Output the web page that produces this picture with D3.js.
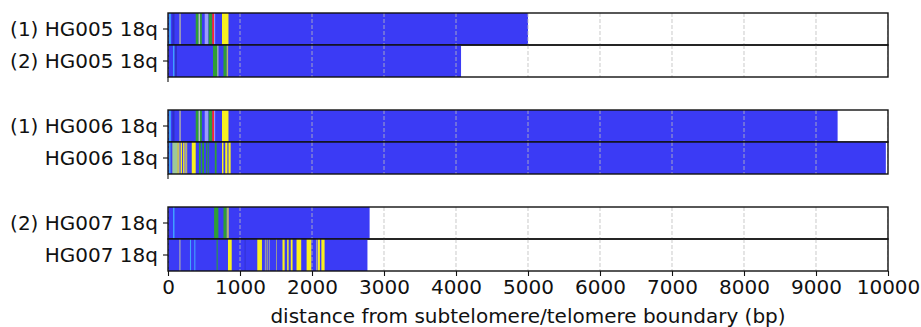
<!DOCTYPE html>
<html>
<head>
<meta charset="utf-8">
<script src="https://cdn.jsdelivr.net/npm/d3@7/dist/d3.min.js"></script>
<style>
  html, body { margin: 0; padding: 0; background: #fff; }
  svg { display: block; }
  text { font-family: "DejaVu Sans", sans-serif; fill: #111; }
</style>
</head>
<body>
<svg id="chart" width="921" height="327"></svg>
<script>
// Read labels, grouped in pairs (one panel per pair)
const rowLabels = [
  "(1) HG005 18q", "(2) HG005 18q",
  "(1) HG006 18q", "HG006 18q",
  "(2) HG007 18q", "HG007 18q"
];
// Read length in bp
const rowLengths = [5000, 4070, 9300, 9970, 2800, 2770];

// Tick values on the distance axis
const xTicks = [0, 1000, 2000, 3000, 4000, 5000, 6000, 7000, 8000, 9000, 10000];
const xLabel = "distance from subtelomere/telomere boundary (bp)";

// Repeat-variant palette
const palette = {
  base: "#3b3bf5",
  ltblue: "#40a4ff",
  dkblue: "#3030c8",
  gray: "#9a98b8",
  green: "#2f9e35",
  pale: "#b8c8b0",
  lilac: "#9b9bff",
  red: "#ff2a2a",
  yellow: "#f8f020",
  tan: "#b2b07a",
  paleGreen: "#9cc89c"
};

// Variant stripes per read: [start bp, end bp, colour key]
const stripes1 = [
  [15, 40, "ltblue"], [60, 90, "dkblue"], [155, 180, "gray"],
  [385, 425, "green"], [425, 445, "pale"], [445, 470, "green"],
  [510, 560, "lilac"], [565, 610, "green"], [615, 640, "red"],
  [640, 655, "lilac"], [750, 840, "yellow"]
];
const stripes2 = [
  [70, 90, "ltblue"], [95, 125, "dkblue"],
  [625, 685, "green"], [685, 700, "pale"],
  [770, 815, "green"], [815, 835, "tan"]
];
const stripes3 = stripes1;
const stripes4 = [
  [15, 35, "ltblue"], [60, 130, "paleGreen"], [130, 150, "yellow"],
  [150, 165, "gray"], [175, 195, "yellow"], [210, 230, "yellow"],
  [235, 250, "gray"], [255, 265, "yellow"], [330, 385, "yellow"],
  [430, 455, "green"], [475, 500, "green"], [530, 545, "green"],
  [560, 570, "green"], [650, 675, "green"],
  [750, 770, "yellow"], [795, 825, "yellow"], [840, 870, "yellow"]
];
const stripes5 = [
  [70, 90, "ltblue"],
  [640, 700, "green"],
  [770, 815, "green"], [815, 845, "tan"]
];
const stripes6 = [
  [155, 175, "gray"], [305, 320, "ltblue"], [365, 380, "ltblue"],
  [675, 690, "green"], [833, 885, "yellow"], [1065, 1075, "dkblue"],
  [1240, 1305, "yellow"], [1345, 1360, "gray"], [1370, 1385, "tan"],
  [1400, 1415, "gray"], [1500, 1510, "tan"], [1590, 1620, "yellow"],
  [1655, 1675, "yellow"], [1705, 1730, "yellow"], [1785, 1850, "yellow"],
  [1925, 1990, "yellow"], [2055, 2075, "gray"], [2080, 2110, "yellow"],
  [2130, 2175, "yellow"]
];
const rowStripes = [stripes1, stripes2, stripes3, stripes4, stripes5, stripes6];

const svg = d3.select("#chart");
const left = 168, right = 888;
const panelTop = 13, panelStep = 97, rowH = 32;
const fontSize = "20px";

const x = d3.scaleLinear().domain([0, 10000]).range([left, right]);

const rowTop = i => panelTop + panelStep * Math.floor(i / 2) + rowH * (i % 2);

svg.append("defs").selectAll("clipPath")
  .data(rowLabels)
  .join("clipPath")
  .attr("id", (d, i) => "clip" + i)
  .append("rect")
  .attr("x", left).attr("y", (d, i) => rowTop(i))
  .attr("width", right - left).attr("height", rowH);

const rows = svg.selectAll("g.row")
  .data(rowLabels.map((label, i) => ({ label, len: rowLengths[i], stripes: rowStripes[i], i })))
  .join("g")
  .attr("class", "row");

const body = rows.append("g").attr("clip-path", d => `url(#clip${d.i})`);

// read body
body.append("rect")
  .attr("x", x(0))
  .attr("y", d => rowTop(d.i))
  .attr("width", d => x(d.len) - x(0))
  .attr("height", rowH)
  .attr("fill", palette.base);

// variant stripes
body.each(function(d) {
  d3.select(this).selectAll("rect.stripe")
    .data(d.stripes)
    .join("rect")
    .attr("class", "stripe")
    .attr("x", s => x(s[0]))
    .attr("y", rowTop(d.i))
    .attr("width", s => Math.max(0.8, x(s[1]) - x(s[0])))
    .attr("height", rowH)
    .attr("fill", s => palette[s[2]]);
});

// dashed vertical grid
body.each(function(d) {
  d3.select(this).selectAll("line.grid")
    .data(xTicks)
    .join("line")
    .attr("class", "grid")
    .attr("x1", t => x(t)).attr("x2", t => x(t))
    .attr("y1", rowTop(d.i)).attr("y2", rowTop(d.i) + rowH)
    .attr("stroke", "#bdbdbd")
    .attr("stroke-opacity", 0.8)
    .attr("stroke-width", 1)
    .attr("stroke-dasharray", "4,2");
});

// row frame
rows.append("rect")
  .attr("x", left).attr("y", d => rowTop(d.i))
  .attr("width", right - left).attr("height", rowH)
  .attr("fill", "none").attr("stroke", "#111").attr("stroke-width", 1.4);

// row label with tick
rows.append("line")
  .attr("x1", left - 5).attr("x2", left)
  .attr("y1", d => rowTop(d.i) + rowH / 2).attr("y2", d => rowTop(d.i) + rowH / 2)
  .attr("stroke", "#111").attr("stroke-width", 1.1);

rows.append("text")
  .attr("x", left - 10)
  .attr("y", d => rowTop(d.i) + rowH / 2)
  .attr("dy", "0.35em")
  .attr("text-anchor", "end")
  .attr("font-size", fontSize)
  .text(d => d.label);

// small origin tick under the upper panels
[0, 1].forEach(p => {
  const yb = panelTop + panelStep * p + rowH * 2;
  svg.append("line")
    .attr("x1", x(0)).attr("x2", x(0))
    .attr("y1", yb).attr("y2", yb + 5)
    .attr("stroke", "#111").attr("stroke-width", 1.1);
});

// bottom axis
const axisY = panelTop + panelStep * 2 + rowH * 2;
const axis = svg.append("g")
  .attr("transform", `translate(0,${axisY})`)
  .call(d3.axisBottom(x).tickValues(xTicks).tickFormat(d3.format("d")).tickSize(5).tickPadding(4));
axis.select(".domain").remove();
axis.selectAll(".tick line").attr("stroke", "#111").attr("stroke-width", 1.1);
axis.selectAll(".tick text")
  .attr("font-family", "DejaVu Sans, sans-serif")
  .attr("font-size", fontSize)
  .attr("fill", "#111");

svg.append("text")
  .attr("x", (left + right) / 2)
  .attr("y", 323)
  .attr("text-anchor", "middle")
  .attr("font-size", fontSize)
  .text(xLabel);
</script>
</body>
</html>
